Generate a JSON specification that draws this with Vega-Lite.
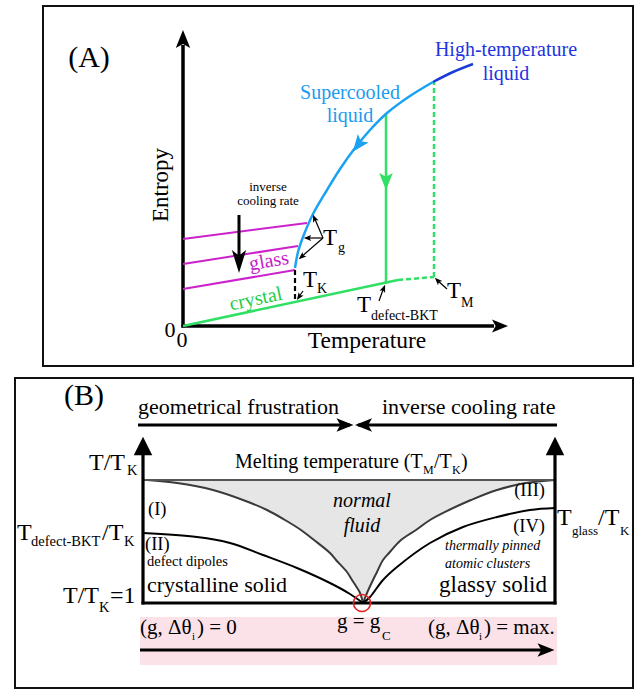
{
"$schema":"https://vega.github.io/schema/vega-lite/v6.json",
"width":636,"height":690,
"autosize":{"type":"fit","contains":"padding"},
"padding":0,
"background":"white",
"config":{"view":{"stroke":null}},
"datasets":{
 "boxes":[{"x":43,"y":6,"x2":633,"y2":366},{"x":15,"y":378,"x2":633,"y2":688}],
 "band":[{"x":140,"y":617,"x2":557,"y2":665}],
 "fluid":[{"y":480,"x":147,"x2":555},{"y":483,"x":177,"x2":526},{"y":490,"x":213,"x2":497},{"y":500,"x":243,"x2":471},{"y":510,"x":267,"x2":449},{"y":520,"x":285,"x2":430},{"y":530,"x":301,"x2":416},{"y":540,"x":314,"x2":401},{"y":553,"x":330,"x2":389},{"y":560,"x":336,"x2":383},{"y":572,"x":347,"x2":377},{"y":580,"x":352,"x2":373},{"y":593,"x":360,"x2":367},{"y":603,"x":363,"x2":363}],
 "curveII":[{"x":143,"y":533},{"x":197,"y":537},{"x":230,"y":543},{"x":263,"y":555},{"x":297,"y":568},{"x":330,"y":583},{"x":350,"y":594},{"x":363,"y":603}],
 "curveIV":[{"x":363,"y":603},{"x":370,"y":597},{"x":383,"y":580},{"x":397,"y":567},{"x":430,"y":543},{"x":463,"y":527},{"x":497,"y":517},{"x":530,"y":510},{"x":555,"y":508}],
 "blackRulesB":[{"x":138,"y":425,"x2":350,"y2":425},{"x":358,"y":425,"x2":557,"y2":425},{"x":143,"y":452,"x2":143,"y2":604.5},{"x":555,"y":452,"x2":555,"y2":604.5},{"x":141.5,"y":603,"x2":556.5,"y2":603},{"x":140,"y":650,"x2":545,"y2":650}],
 "tmLine":[{"x":143,"y":480,"x2":555,"y2":480}],
 "axesA":[{"x":183,"y":327.5,"x2":183,"y2":45},{"x":181.5,"y":326,"x2":494,"y2":326}],
 "glassLines":[{"x":183,"y":239,"x2":307,"y2":223},{"x":183,"y":264,"x2":298,"y2":246},{"x":183,"y":289,"x2":295,"y2":270}],
 "greenSolid":[{"x":183,"y":326,"x2":398,"y2":280},{"x":386,"y":284,"x2":386,"y2":113}],
 "greenDash":[{"x":398,"y":280,"x2":434,"y2":277},{"x":434,"y":277,"x2":434,"y2":82}],
 "blackDash":[{"x":295,"y":270,"x2":295,"y2":300}],
 "coolShaft":[{"x":239,"y":215,"x2":239,"y2":256}],
 "thinArrows":[{"x":323,"y":238,"x2":314,"y2":217},{"x":323,"y":238,"x2":306,"y2":238},{"x":323,"y":238,"x2":300,"y2":258},{"x":303,"y":291,"x2":298,"y2":298},{"x":379,"y":301,"x2":384,"y2":287},{"x":447,"y":289,"x2":437,"y2":280}],
 "supercooled":[{"x":295,"y":268},{"x":298,"y":252},{"x":303,"y":237},{"x":313,"y":214},{"x":327,"y":190},{"x":340,"y":169},{"x":355,"y":148},{"x":370,"y":130},{"x":387,"y":113},{"x":410,"y":96},{"x":433,"y":82}],
 "hot":[{"x":433,"y":82},{"x":453,"y":72},{"x":473,"y":64}],
 "headUpA":[{"x":183,"y":39}],
 "headRightA":[{"x":500,"y":326}],
 "headGreen":[{"x":386,"y":181.5}],
 "headCool":[{"x":239,"y":261.5}],
 "headBlue":[{"x":358,"y":145}],
 "hTg1":[{"x":314.4,"y":218.2}],
 "hTg2":[{"x":307.5,"y":238}],
 "hTg3":[{"x":301.6,"y":256.7}],
 "hTK":[{"x":299,"y":297}],
 "hTd":[{"x":383.7,"y":288.3}],
 "hTM":[{"x":437.5,"y":280.5}],
 "headRightB":[{"x":345,"y":425},{"x":546,"y":650}],
 "headLeftB":[{"x":363.5,"y":425}],
 "triUpB":[{"x":143,"y":446},{"x":555,"y":446}],
 "gc":[{"x":362,"y":603}],
 "tBig":[{"x":89,"y":67,"text":"(A)"},{"x":84,"y":405,"text":"(B)"}],
 "tTemp":[{"x":367,"y":348,"text":"Temperature"}],
 "tEntropy":[{"x":168,"y":185,"text":"Entropy"}],
 "tZero":[{"x":170,"y":337,"text":"0"},{"x":182,"y":347,"text":"0"}],
 "tSuper":[{"x":350,"y":99,"text":"Supercooled"},{"x":350,"y":122,"text":"liquid"}],
 "tHot":[{"x":506,"y":56,"text":"High-temperature"},{"x":506,"y":80,"text":"liquid"}],
 "tCool":[{"x":268,"y":191,"text":"inverse"},{"x":268,"y":205,"text":"cooling rate"}],
 "tGlass":[{"x":270,"y":267,"text":"glass"}],
 "tCrystal":[{"x":257,"y":305,"text":"crystal"}],
 "tTA":[{"x":323,"y":245,"text":"T"},{"x":303,"y":287,"text":"T"},{"x":357,"y":312,"text":"T"},{"x":447,"y":298,"text":"T"}],
 "tSubA":[{"x":338,"y":252,"text":"g"},{"x":317,"y":293,"text":"K"},{"x":371,"y":320,"text":"defect-BKT"},{"x":461,"y":307,"text":"M"}],
 "tB22":[{"x":138,"y":414,"text":"geometrical frustration"},{"x":382,"y":414,"text":"inverse cooling rate"},{"x":147,"y":592,"text":"crystalline solid"}],
 "tBsym":[{"x":89,"y":470,"text":"T/T"},{"x":17,"y":540,"text":"T"},{"x":102,"y":540,"text":"/T"},{"x":557,"y":525,"text":"T"},{"x":598,"y":525,"text":"/T"},{"x":63,"y":603,"text":"T/T"},{"x":110,"y":603,"text":"=1"}],
 "tBsub":[{"x":127,"y":475,"text":"K"},{"x":31,"y":546,"text":"defect-BKT"},{"x":124,"y":546,"text":"K"},{"x":99,"y":612,"text":"K"}],
 "tBsub13":[{"x":572,"y":535,"text":"glass"},{"x":620,"y":535,"text":"K"},{"x":382,"y":640,"text":"C"}],
 "tMelt":[{"x":235,"y":468,"text":"Melting temperature (T"},{"x":434,"y":468,"text":"/T"},{"x":461,"y":468,"text":")"}],
 "tMeltSub":[{"x":423,"y":474,"text":"M"},{"x":452,"y":474,"text":"K"}],
 "tRomanL":[{"x":148,"y":515,"text":"(I)"},{"x":145,"y":550,"text":"(II)"}],
 "tRomanR":[{"x":545,"y":496,"text":"(III)"},{"x":545,"y":532,"text":"(IV)"}],
 "tDipoles":[{"x":147,"y":566,"text":"defect dipoles"}],
 "tNormal":[{"x":362,"y":507,"text":"normal"},{"x":362,"y":532,"text":"fluid"}],
 "tPinned":[{"x":445,"y":550,"text":"thermally pinned"},{"x":445,"y":568,"text":"atomic clusters"}],
 "tGlassy":[{"x":547,"y":592,"text":"glassy solid"}],
 "tBand":[{"x":140,"y":634,"text":"(g, Δθ"},{"x":197,"y":634,"text":") = 0"},{"x":337,"y":628,"text":"g = g"},{"x":428,"y":634,"text":"(g, Δθ"},{"x":484,"y":634,"text":") = max."}],
 "tBandSub":[{"x":192,"y":640,"text":"i"},{"x":479,"y":640,"text":"i"}]
},
"encoding":{
 "x":{"field":"x","type":"quantitative","scale":{"domain":[0,636],"nice":false,"zero":false},"axis":null},
 "y":{"field":"y","type":"quantitative","scale":{"domain":[0,690],"nice":false,"zero":false,"reverse":true},"axis":null}
},
"layer":[
 {"data":{"name":"band"},"mark":{"type":"rect","color":"#fae2e8"},"encoding":{"x2":{"field":"x2"},"y2":{"field":"y2"}}},
 {"data":{"name":"fluid"},"mark":{"type":"area","orient":"horizontal","interpolate":"catmull-rom","color":"#e6e6e6"},"encoding":{"x2":{"field":"x2"}}},
 {"data":{"name":"fluid"},"mark":{"type":"line","interpolate":"catmull-rom","color":"#3a3a3a","strokeWidth":2}},
 {"data":{"name":"fluid"},"mark":{"type":"line","interpolate":"catmull-rom","color":"#3a3a3a","strokeWidth":2},"encoding":{"x":{"field":"x2","type":"quantitative","scale":{"domain":[0,636],"nice":false,"zero":false},"axis":null}}},
 {"data":{"name":"curveII"},"mark":{"type":"line","interpolate":"catmull-rom","color":"black","strokeWidth":2}},
 {"data":{"name":"curveIV"},"mark":{"type":"line","interpolate":"catmull-rom","color":"black","strokeWidth":2}},
 {"data":{"name":"tmLine"},"mark":{"type":"rule","color":"#555555","strokeWidth":2},"encoding":{"x2":{"field":"x2"},"y2":{"field":"y2"}}},
 {"data":{"name":"blackRulesB"},"mark":{"type":"rule","color":"black","strokeWidth":3.2},"encoding":{"x2":{"field":"x2"},"y2":{"field":"y2"}}},
 {"data":{"name":"axesA"},"mark":{"type":"rule","color":"black","strokeWidth":3.5},"encoding":{"x2":{"field":"x2"},"y2":{"field":"y2"}}},
 {"data":{"name":"glassLines"},"mark":{"type":"rule","color":"#cc22cc","strokeWidth":2},"encoding":{"x2":{"field":"x2"},"y2":{"field":"y2"}}},
 {"data":{"name":"greenSolid"},"mark":{"type":"rule","color":"#30e065","strokeWidth":2.5},"encoding":{"x2":{"field":"x2"},"y2":{"field":"y2"}}},
 {"data":{"name":"greenDash"},"mark":{"type":"rule","color":"#30e065","strokeWidth":2.5,"strokeDash":[5,3]},"encoding":{"x2":{"field":"x2"},"y2":{"field":"y2"}}},
 {"data":{"name":"blackDash"},"mark":{"type":"rule","color":"black","strokeWidth":2.2,"strokeDash":[5,3]},"encoding":{"x2":{"field":"x2"},"y2":{"field":"y2"}}},
 {"data":{"name":"coolShaft"},"mark":{"type":"rule","color":"black","strokeWidth":3},"encoding":{"x2":{"field":"x2"},"y2":{"field":"y2"}}},
 {"data":{"name":"thinArrows"},"mark":{"type":"rule","color":"black","strokeWidth":1.2},"encoding":{"x2":{"field":"x2"},"y2":{"field":"y2"}}},
 {"data":{"name":"supercooled"},"mark":{"type":"line","interpolate":"catmull-rom","color":"#1ba3f2","strokeWidth":2.5}},
 {"data":{"name":"hot"},"mark":{"type":"line","interpolate":"catmull-rom","color":"#1a3cd8","strokeWidth":2.5}},
 {"data":{"name":"headUpA"},"mark":{"type":"point","shape":"M0,-1L0.8,1L0,0.55L-0.8,1Z","size":324,"filled":true,"opacity":1,"color":"black","strokeWidth":0}},
 {"data":{"name":"headRightA"},"mark":{"type":"point","shape":"M1,0L-1,0.8L-0.55,0L-1,-0.8Z","size":256,"filled":true,"opacity":1,"color":"black","strokeWidth":0}},
 {"data":{"name":"headGreen"},"mark":{"type":"point","shape":"M0,1L0.8,-1L0,-0.55L-0.8,-1Z","size":289,"filled":true,"opacity":1,"color":"#30e065","strokeWidth":0}},
 {"data":{"name":"headCool"},"mark":{"type":"point","shape":"M0,1L0.62,-1L0,-0.5L-0.62,-1Z","size":529,"filled":true,"opacity":1,"color":"black","strokeWidth":0}},
 {"data":{"name":"headBlue"},"mark":{"type":"point","shape":"M0,-1L0.8,1L0,0.55L-0.8,1Z","size":289,"angle":218,"filled":true,"opacity":1,"color":"#1ba3f2","strokeWidth":0}},
 {"data":{"name":"hTg1"},"mark":{"type":"point","shape":"M0,-1L0.8,1L0,0.55L-0.8,1Z","size":56,"angle":336,"filled":true,"opacity":1,"color":"black","strokeWidth":0}},
 {"data":{"name":"hTg2"},"mark":{"type":"point","shape":"M0,-1L0.8,1L0,0.55L-0.8,1Z","size":56,"angle":270,"filled":true,"opacity":1,"color":"black","strokeWidth":0}},
 {"data":{"name":"hTg3"},"mark":{"type":"point","shape":"M0,-1L0.8,1L0,0.55L-0.8,1Z","size":56,"angle":229,"filled":true,"opacity":1,"color":"black","strokeWidth":0}},
 {"data":{"name":"hTK"},"mark":{"type":"point","shape":"M0,-1L0.8,1L0,0.55L-0.8,1Z","size":56,"angle":214,"filled":true,"opacity":1,"color":"black","strokeWidth":0}},
 {"data":{"name":"hTd"},"mark":{"type":"point","shape":"M0,-1L0.8,1L0,0.55L-0.8,1Z","size":56,"angle":22,"filled":true,"opacity":1,"color":"black","strokeWidth":0}},
 {"data":{"name":"hTM"},"mark":{"type":"point","shape":"M0,-1L0.8,1L0,0.55L-0.8,1Z","size":56,"angle":315,"filled":true,"opacity":1,"color":"black","strokeWidth":0}},
 {"data":{"name":"headRightB"},"mark":{"type":"point","shape":"M1,0L-1,0.8L-0.55,0L-1,-0.8Z","size":289,"filled":true,"opacity":1,"color":"black","strokeWidth":0}},
 {"data":{"name":"headLeftB"},"mark":{"type":"point","shape":"M-1,0L1,0.8L0.55,0L1,-0.8Z","size":289,"filled":true,"opacity":1,"color":"black","strokeWidth":0}},
 {"data":{"name":"triUpB"},"mark":{"type":"point","shape":"M0,-1L1,1L-1,1Z","size":342,"filled":true,"opacity":1,"color":"black","strokeWidth":0}},
 {"data":{"name":"gc"},"mark":{"type":"point","shape":"circle","size":289,"filled":false,"opacity":1,"color":"#e62222","strokeWidth":1.6}},
 {"data":{"name":"tBig"},"mark":{"type":"text","font":"Liberation Serif","fontSize":30,"align":"center","baseline":"alphabetic","color":"black"},"encoding":{"text":{"field":"text"}}},
 {"data":{"name":"tTemp"},"mark":{"type":"text","font":"Liberation Serif","fontSize":23.5,"align":"center","baseline":"alphabetic","color":"black"},"encoding":{"text":{"field":"text"}}},
 {"data":{"name":"tEntropy"},"mark":{"type":"text","font":"Liberation Serif","fontSize":23,"align":"center","baseline":"alphabetic","angle":270,"color":"black"},"encoding":{"text":{"field":"text"}}},
 {"data":{"name":"tZero"},"mark":{"type":"text","font":"Liberation Serif","fontSize":22,"align":"center","baseline":"alphabetic","color":"black"},"encoding":{"text":{"field":"text"}}},
 {"data":{"name":"tSuper"},"mark":{"type":"text","font":"Liberation Serif","fontSize":20,"align":"center","baseline":"alphabetic","color":"#1b9cf0"},"encoding":{"text":{"field":"text"}}},
 {"data":{"name":"tHot"},"mark":{"type":"text","font":"Liberation Serif","fontSize":20,"align":"center","baseline":"alphabetic","color":"#2234e0"},"encoding":{"text":{"field":"text"}}},
 {"data":{"name":"tCool"},"mark":{"type":"text","font":"Liberation Serif","fontSize":13,"align":"center","baseline":"alphabetic","color":"black"},"encoding":{"text":{"field":"text"}}},
 {"data":{"name":"tGlass"},"mark":{"type":"text","font":"Liberation Serif","fontSize":20,"align":"center","baseline":"alphabetic","angle":350,"color":"#c41cc4"},"encoding":{"text":{"field":"text"}}},
 {"data":{"name":"tCrystal"},"mark":{"type":"text","font":"Liberation Serif","fontSize":20,"align":"center","baseline":"alphabetic","angle":348,"color":"#22cc44"},"encoding":{"text":{"field":"text"}}},
 {"data":{"name":"tTA"},"mark":{"type":"text","font":"Liberation Serif","fontSize":23,"align":"left","baseline":"alphabetic","color":"black"},"encoding":{"text":{"field":"text"}}},
 {"data":{"name":"tSubA"},"mark":{"type":"text","font":"Liberation Serif","fontSize":14,"align":"left","baseline":"alphabetic","color":"black"},"encoding":{"text":{"field":"text"}}},
 {"data":{"name":"tB22"},"mark":{"type":"text","font":"Liberation Serif","fontSize":22,"align":"left","baseline":"alphabetic","color":"black"},"encoding":{"text":{"field":"text"}}},
 {"data":{"name":"tBsym"},"mark":{"type":"text","font":"Liberation Serif","fontSize":24,"align":"left","baseline":"alphabetic","color":"black"},"encoding":{"text":{"field":"text"}}},
 {"data":{"name":"tBsub"},"mark":{"type":"text","font":"Liberation Serif","fontSize":14.5,"align":"left","baseline":"alphabetic","color":"black"},"encoding":{"text":{"field":"text"}}},
 {"data":{"name":"tBsub13"},"mark":{"type":"text","font":"Liberation Serif","fontSize":13,"align":"left","baseline":"alphabetic","color":"black"},"encoding":{"text":{"field":"text"}}},
 {"data":{"name":"tMelt"},"mark":{"type":"text","font":"Liberation Serif","fontSize":20,"align":"left","baseline":"alphabetic","color":"black"},"encoding":{"text":{"field":"text"}}},
 {"data":{"name":"tMeltSub"},"mark":{"type":"text","font":"Liberation Serif","fontSize":12,"align":"left","baseline":"alphabetic","color":"black"},"encoding":{"text":{"field":"text"}}},
 {"data":{"name":"tRomanL"},"mark":{"type":"text","font":"Liberation Serif","fontSize":18.5,"align":"left","baseline":"alphabetic","color":"black"},"encoding":{"text":{"field":"text"}}},
 {"data":{"name":"tRomanR"},"mark":{"type":"text","font":"Liberation Serif","fontSize":18.5,"align":"right","baseline":"alphabetic","color":"black"},"encoding":{"text":{"field":"text"}}},
 {"data":{"name":"tDipoles"},"mark":{"type":"text","font":"Liberation Serif","fontSize":14.5,"align":"left","baseline":"alphabetic","color":"black"},"encoding":{"text":{"field":"text"}}},
 {"data":{"name":"tNormal"},"mark":{"type":"text","font":"Liberation Serif","fontSize":20,"fontStyle":"italic","align":"center","baseline":"alphabetic","color":"black"},"encoding":{"text":{"field":"text"}}},
 {"data":{"name":"tPinned"},"mark":{"type":"text","font":"Liberation Serif","fontSize":14,"fontStyle":"italic","align":"left","baseline":"alphabetic","color":"black"},"encoding":{"text":{"field":"text"}}},
 {"data":{"name":"tGlassy"},"mark":{"type":"text","font":"Liberation Serif","fontSize":23,"align":"right","baseline":"alphabetic","color":"black"},"encoding":{"text":{"field":"text"}}},
 {"data":{"name":"tBand"},"mark":{"type":"text","font":"Liberation Serif","fontSize":21,"align":"left","baseline":"alphabetic","color":"black"},"encoding":{"text":{"field":"text"}}},
 {"data":{"name":"tBandSub"},"mark":{"type":"text","font":"Liberation Serif","fontSize":11,"align":"left","baseline":"alphabetic","color":"black"},"encoding":{"text":{"field":"text"}}},
 {"data":{"name":"boxes"},"mark":{"type":"rect","fill":"white","fillOpacity":0,"stroke":"#111111","strokeWidth":2},"encoding":{"x2":{"field":"x2"},"y2":{"field":"y2"}}}
]
}
